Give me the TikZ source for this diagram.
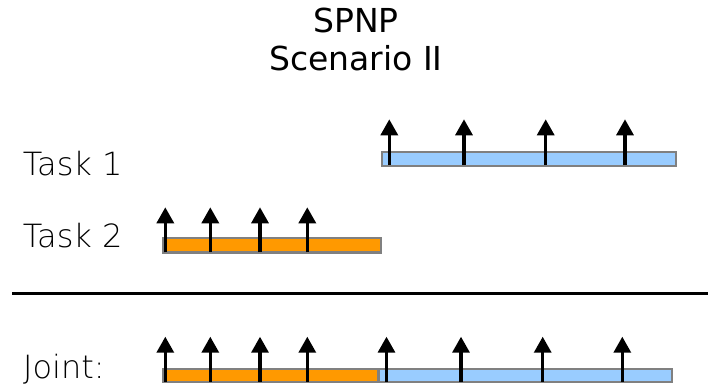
\documentclass[tikz,border=0pt]{standalone}
\usepackage{fontspec}
\setmainfont{DejaVu Sans}
\newfontfamily\thinfont{DejaVu Sans ExtraLight}
\usetikzlibrary{arrows.meta}
\definecolor{barorange}{HTML}{FF9900}
\definecolor{barblue}{HTML}{99CCFF}
\definecolor{baredge}{HTML}{808080}
\tikzset{
  title/.style={anchor=base, inner sep=0pt, font=\fontsize{33}{39}\selectfont},
  tasklabel/.style={anchor=base west, inner sep=0pt, font=\thinfont\fontsize{32}{38}\selectfont},
  bar/.style={draw=baredge, line width=2.4pt, inner sep=0pt, anchor=north west},
  bluebar/.style={bar, fill=barblue},
  orangebar/.style={bar, fill=barorange},
  release/.style={line width=3.3pt, -{Triangle[width=17pt,length=16pt]}},
  divider/.style={line width=3pt}
}

\begin{document}
\begin{tikzpicture}[x=1pt, y=-1pt]
  \useasboundingbox (0,0) rectangle (709,386);

  \node[title] (title1) at (356,32.3) {SPNP};
  \node[title] (title2) at (356,70.7) {Scenario II};

  \node[tasklabel] (lab1) at (22.7,175) {Task 1};
  \node[tasklabel] (lab2) at (22.7,247.7) {Task 2};
  \node[tasklabel] (labj) at (23,378.8) {Joint:};

  % single tasks
  \node[bluebar, minimum width=294pt, minimum height=14.5pt] (bar1) at (380.5,150.5) {};
  \node[orangebar, minimum width=218pt, minimum height=14.3pt] (bar2) at (162,237) {};

  \foreach \i/\x in {1/389.3,2/464,3/545.7,4/625} {
    \coordinate (a1\i) at (\x,165);
    \coordinate (b1\i) at (\x,119.3);
    \draw[release] (a1\i) -- (b1\i);
  }
  \foreach \i/\x in {1/165.3,2/210.3,3/260,4/307.3} {
    \coordinate (a2\i) at (\x,252.3);
    \coordinate (b2\i) at (\x,207.3);
    \draw[release] (a2\i) -- (b2\i);
  }

  \coordinate (divl) at (12,293.3);
  \coordinate (divr) at (708,293.3);
  \draw[divider] (divl) -- (divr);

  % joint schedule
  \node[orangebar, minimum width=215pt, minimum height=13pt] (barj2) at (162,367.7) {};
  \node[bluebar, minimum width=293.5pt, minimum height=13pt] (barj1) at (377.5,367.7) {};

  \foreach \i/\x in {1/165.3,2/210.3,3/260,4/307.3,5/386.5,6/461,7/542.7,8/622.3} {
    \coordinate (aj\i) at (\x,381.7);
    \coordinate (bj\i) at (\x,336.7);
    \draw[release] (aj\i) -- (bj\i);
  }
\end{tikzpicture}
\end{document}
